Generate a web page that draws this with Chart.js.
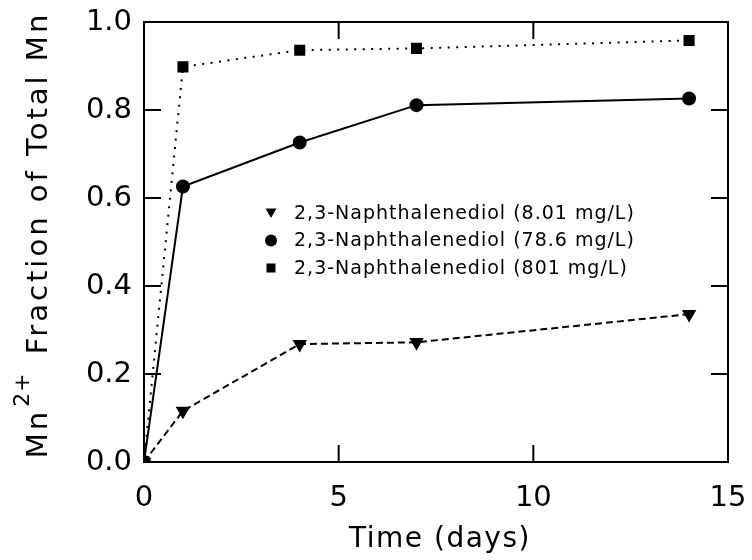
<!DOCTYPE html>
<html>
<head>
<meta charset="utf-8">
<script src="https://cdn.jsdelivr.net/npm/chart.js"></script>
<style>
  html, body { margin: 0; padding: 0; background: #fff; }
  #wrap { width: 752px; height: 560px; position: relative; }
</style>
</head>
<body>
<div id="wrap"><canvas id="mnChart"></canvas></div>
<script>
// 数据：时间 (天) 与 Mn2+ 占总 Mn 的比例
const days = [0, 1, 4, 7, 14];
const low = [0, 0.116, 0.268, 0.272, 0.336];    // 8.01 mg/L
const mid = [0, 0.626, 0.726, 0.811, 0.826];    // 78.6 mg/L
const high = [0, 0.898, 0.936, 0.940, 0.958];   // 801 mg/L
const seriesLabels = [
    '2,3-Naphthalenediol (8.01 mg/L)',
    '2,3-Naphthalenediol (78.6 mg/L)',
    '2,3-Naphthalenediol (801 mg/L)'
];
const xTicks = [0, 5, 10, 15];
const yTicks = [0, 0.2, 0.4, 0.6, 0.8, 1.0];
const xTitle = 'Time (days)';
const yTitle = ['Mn', '2+', ' Fraction of Total Mn'];

const FONT = 'DejaVu Sans';
const INK = '#000';

const toPoints = ys => days.map((d, i) => ({ x: d, y: ys[i] }));

// 坐标框与向内刻度
const framePlugin = {
    id: 'frame',
    afterDraw(chart) {
        const { ctx, chartArea: a, scales } = chart;
        const len = 17;
        ctx.save();
        ctx.strokeStyle = INK;
        ctx.lineWidth = 2;
        ctx.strokeRect(a.left, a.top, a.right - a.left, a.bottom - a.top);
        ctx.beginPath();
        xTicks.forEach(v => {
            const px = scales.x.getPixelForValue(v);
            ctx.moveTo(px, a.bottom); ctx.lineTo(px, a.bottom - len);
            ctx.moveTo(px, a.top); ctx.lineTo(px, a.top + len);
        });
        yTicks.forEach(v => {
            const py = scales.y.getPixelForValue(v);
            ctx.moveTo(a.left, py); ctx.lineTo(a.left + len, py);
            ctx.moveTo(a.right, py); ctx.lineTo(a.right - len, py);
        });
        ctx.stroke();
        ctx.restore();
    }
};

// 坐标轴标题（带上标）
const axisTitles = {
    id: 'axisTitles',
    afterDraw(chart) {
        const { ctx, chartArea: a } = chart;
        ctx.save();
        ctx.fillStyle = INK;
        ctx.textBaseline = 'alphabetic';

        // x 轴标题
        ctx.font = '28px "' + FONT + '"';
        ctx.letterSpacing = '1.5px';
        ctx.textAlign = 'center';
        ctx.fillText(xTitle, (a.left + a.right) / 2 + 4, 547);

        // y 轴标题，逆时针旋转
        ctx.translate(47, 0);
        ctx.rotate(-Math.PI / 2);
        const mainFont = '29px "' + FONT + '"';
        const supFont = '22px "' + FONT + '"';
        ctx.textAlign = 'left';
        ctx.font = mainFont;
        ctx.letterSpacing = '3px';
        const w0 = ctx.measureText(yTitle[0]).width;
        const w2 = ctx.measureText(yTitle[2]).width;
        ctx.font = supFont;
        ctx.letterSpacing = '1px';
        const w1 = ctx.measureText(yTitle[1]).width + 6;
        const total = w0 + w1 + w2;
        let pos = -((a.top + a.bottom) / 2 - 6) - total / 2;
        ctx.font = mainFont;
        ctx.letterSpacing = '3px';
        ctx.fillText(yTitle[0], pos, 0);
        pos += w0 + 2;
        ctx.font = supFont;
        ctx.letterSpacing = '1px';
        ctx.fillText(yTitle[1], pos, -18);
        pos += w1;
        ctx.font = mainFont;
        ctx.letterSpacing = '3px';
        ctx.fillText(yTitle[2], pos, 0);
        ctx.restore();
    }
};

// 图内图例
const insideLegend = {
    id: 'insideLegend',
    afterDatasetsDraw(chart) {
        const { ctx, chartArea: a } = chart;
        const x0 = a.left + 127;
        const y0 = a.top + 191;
        const rowH = 27.5;
        ctx.save();
        ctx.fillStyle = INK;
        ctx.font = '19px "' + FONT + '"';
        ctx.letterSpacing = '1px';
        ctx.textBaseline = 'middle';
        ctx.textAlign = 'left';
        [0, 1, 2].forEach(i => {
            const y = y0 + i * rowH;
            ctx.beginPath();
            if (i === 0) {
                ctx.moveTo(x0 - 5.5, y - 4.5);
                ctx.lineTo(x0 + 5.5, y - 4.5);
                ctx.lineTo(x0, y + 5);
                ctx.closePath();
            } else if (i === 1) {
                ctx.arc(x0, y, 6, 0, Math.PI * 2);
            } else {
                ctx.rect(x0 - 4.5, y - 4.5, 9, 9);
            }
            ctx.fill();
            ctx.fillText(seriesLabels[i], x0 + 23, y + 1);
        });
        ctx.restore();
    }
};

const datasets = [
    {
        label: seriesLabels[0],
        data: toPoints(low),
        showLine: true,
        borderColor: INK,
        backgroundColor: INK,
        borderWidth: 2,
        borderDash: [7, 4],
        pointStyle: 'triangle',
        rotation: 180,
        pointRadius: 6.4,
        order: 2
    },
    {
        label: seriesLabels[1],
        data: toPoints(mid),
        showLine: true,
        borderColor: INK,
        backgroundColor: INK,
        borderWidth: 2,
        pointStyle: 'circle',
        pointRadius: 6,
        order: 0
    },
    {
        label: seriesLabels[2],
        data: toPoints(high),
        showLine: true,
        borderColor: INK,
        backgroundColor: INK,
        borderWidth: 2,
        borderDash: [2, 6.5],
        pointStyle: 'rect',
        pointRadius: 6.4,
        order: 1
    }
];

new Chart(document.getElementById('mnChart'), {
    type: 'scatter',
    data: { datasets: datasets },
    plugins: [framePlugin, axisTitles, insideLegend],
    options: {
        responsive: true,
        maintainAspectRatio: false,
        animation: false,
        layout: { padding: { top: 22, right: 24, left: 0, bottom: 0 } },
        plugins: {
            legend: { display: false },
            tooltip: { enabled: false }
        },
        elements: { line: { tension: 0 } },
        scales: {
            x: {
                type: 'linear',
                min: 0,
                max: 15,
                afterFit: s => {
                    s.height = 98;
                    s.paddingLeft = 0;
                    s.paddingRight = 0;
                },
                afterBuildTicks: s => { s.ticks = xTicks.map(v => ({ value: v })); },
                grid: { display: false, drawTicks: false },
                border: { display: false },
                ticks: {
                    color: INK,
                    padding: 19,
                    font: { family: FONT, size: 29 },
                    maxRotation: 0
                },
                title: { display: false }
            },
            y: {
                type: 'linear',
                min: 0,
                max: 1,
                afterFit: s => {
                    s.width = 144;
                    s.paddingTop = 0;
                    s.paddingBottom = 0;
                },
                afterBuildTicks: s => { s.ticks = yTicks.map(v => ({ value: v })); },
                grid: { display: false, drawTicks: false },
                border: { display: false },
                ticks: {
                    color: INK,
                    padding: 12,
                    font: { family: FONT, size: 29 },
                    callback: v => v.toFixed(1)
                },
                title: { display: false }
            }
        }
    }
});
</script>
</body>
</html>
